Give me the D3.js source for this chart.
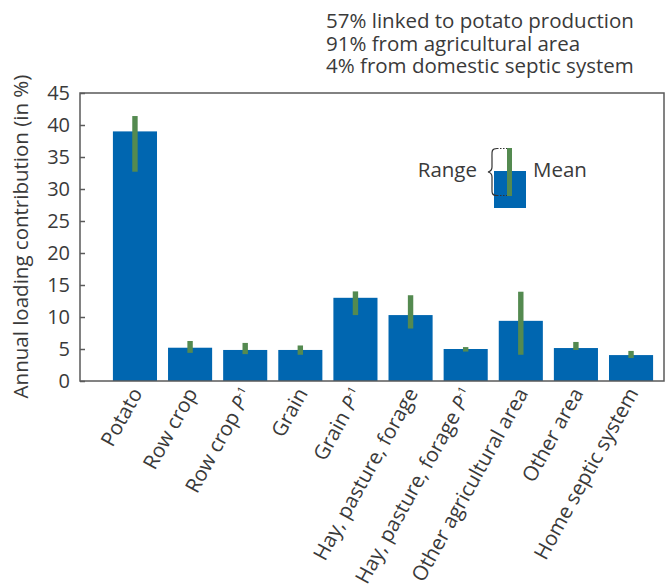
<!DOCTYPE html>
<html>
<head>
<meta charset="utf-8">
<script src="https://cdn.jsdelivr.net/npm/d3@7"></script>
<style>
  body { margin:0; background:#fff; }
  text { font-family:"Open Sans", sans-serif; fill:#3a3a3a; }
</style>
</head>
<body>
<div id="chart-area"></div>
<script>
// categories, P marks the "P-1" suffix
const categories = ["Potato", "Row crop", "Row crop P", "Grain", "Grain P",
    "Hay, pasture, forage", "Hay, pasture, forage P", "Other agricultural area",
    "Other area", "Home septic system"];
const withP = [false, false, true, false, true, false, true, false, false, false];
const meanVals = [39.0, 5.2, 4.85, 4.85, 13.0, 10.3, 5.0, 9.4, 5.15, 4.05];
const rangeLow = [32.7, 4.4, 4.2, 4.1, 10.3, 8.2, 4.6, 4.1, 4.85, 3.6];
const rangeHigh = [41.4, 6.25, 5.95, 5.55, 14.0, 13.4, 5.3, 13.95, 6.1, 4.7];
const yTicks = [0, 5, 10, 15, 20, 25, 30, 35, 40, 45];
const notes = ["57% linked to potato production", "91% from agricultural area",
    "4% from domestic septic system"];

const W = 671, H = 586;
const margin = { left:80, right:7, top:93, bottom:205 };
const width = W - margin.left - margin.right,
    height = H - margin.top - margin.bottom;
const fs = "20.5px";

const svg = d3.select("#chart-area").append("svg")
    .attr("width", W).attr("height", H);

const g = svg.append("g")
    .attr("transform", "translate(" + margin.left + "," + margin.top + ")");

const y = d3.scaleLinear().domain([0, 45]).range([height, 0]);
const x = d3.scaleBand()
    .domain(categories)
    .range([27.4, 578.6])
    .paddingInner(0.2)
    .paddingOuter(0.1);

const blue = "#0066b0", green = "#548a50", axisCol = "#5a5a5a";

// bars
g.selectAll("rect.bar").data(categories).enter().append("rect")
    .attr("class", "bar")
    .attr("x", d => x(d))
    .attr("y", (d, i) => y(meanVals[i]))
    .attr("width", x.bandwidth())
    .attr("height", (d, i) => height - y(meanVals[i]))
    .attr("fill", blue);

// range sticks
g.selectAll("rect.rng").data(categories).enter().append("rect")
    .attr("class", "rng")
    .attr("x", d => x(d) + x.bandwidth() / 2 - 2.7)
    .attr("y", (d, i) => y(rangeHigh[i]))
    .attr("width", 5.4)
    .attr("height", (d, i) => y(rangeLow[i]) - y(rangeHigh[i]))
    .attr("fill", green);

// frame
g.append("rect")
    .attr("width", width).attr("height", height)
    .attr("fill", "none").attr("stroke", axisCol).attr("stroke-width", 1.5);

// y axis, ticks inside
const yAxis = g.append("g").call(d3.axisLeft(y).tickValues(yTicks).tickSize(-5).tickPadding(10));
yAxis.select(".domain").remove();
yAxis.selectAll("line").attr("stroke", axisCol).attr("stroke-width", 1.5);
yAxis.selectAll("text")
    .attr("font-size", "20px").attr("fill", "#3a3a3a")
    .style("font-family", "'Open Sans', sans-serif");

// x labels
const xl = g.selectAll("text.xl").data(categories).enter().append("text")
    .attr("class", "xl")
    .attr("text-anchor", "end")
    .attr("font-size", fs)
    .attr("transform", d => "translate(" + (x(d) + x.bandwidth() / 2 + 8) + "," + (height + 12) + ") rotate(-61)");
xl.each(function(d, i) {
    const t = d3.select(this);
    if (withP[i]) {
        t.append("tspan").text(d.slice(0, -1));
        t.append("tspan").attr("font-style", "italic").text("P");
        t.append("tspan").attr("font-size", "11px").attr("dy", -8).text("-1");
    } else {
        t.text(d);
    }
});

// y title
svg.append("text")
    .attr("transform", "translate(28,236.5) rotate(-90)")
    .attr("text-anchor", "middle")
    .attr("font-size", fs)
    .text("Annual loading contribution (in %)");

// notes
svg.selectAll("text.note").data(notes).enter().append("text")
    .attr("class", "note")
    .attr("x", 326)
    .attr("y", (d, i) => 28 + i * 22.5)
    .attr("font-size", fs)
    .text(d => d);

// legend
const lg = svg.append("g");
lg.append("rect").attr("x", 494).attr("y", 171).attr("width", 32).attr("height", 37).attr("fill", blue);
lg.append("rect").attr("x", 507).attr("y", 148).attr("width", 5).attr("height", 48).attr("fill", green);
lg.append("path")
    .attr("d", "M497,148.5 H507 M497,195.5 H507")
    .attr("stroke", "#333").attr("stroke-width", 1).attr("stroke-dasharray", "1.5,1.5");
lg.append("path")
    .attr("d", "M497,148.5 C491,148.5 492,152 492,158 L492,167 C492,170 490,171.5 488,172 C490,172.5 492,174 492,177 L492,186 C492,192 491,195.5 497,195.5")
    .attr("fill", "none").attr("stroke", "#333").attr("stroke-width", 1.2);
lg.append("text").attr("x", 477).attr("y", 177).attr("text-anchor", "end")
    .attr("font-size", fs).text("Range");
lg.append("text").attr("x", 533).attr("y", 177)
    .attr("font-size", fs).text("Mean");
</script>
</body>
</html>
